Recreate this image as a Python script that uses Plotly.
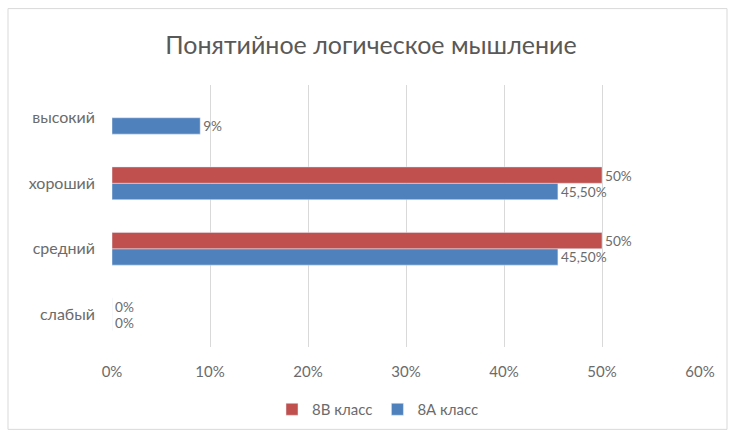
import plotly.graph_objects as go

categories = ["слабый", "средний", "хороший", "высокий"]
vals_8a = [0, 45.5, 45.5, 9]
vals_8b = [0, 50, 50, None]
labels_8a = ["0%", "45,50%", "45,50%", "9%"]
labels_8b = ["0%", "50%", "50%", ""]
tick_vals = [0, 10, 20, 30, 40, 50, 60]
tick_text = ["0%", "10%", "20%", "30%", "40%", "50%", "60%"]

FONT = "Lato, 'Open Sans', sans-serif"
GRAY = "#595959"
LGRAY = "#6b6b6b"

fig = go.Figure()
fig.add_trace(go.Bar(
    y=categories, x=vals_8a, orientation="h", name="8А класс",
    marker_color="#4f81bd", text=labels_8a, textposition="outside",
    textfont=dict(color=LGRAY, size=15, family=FONT), cliponaxis=False,
    legendrank=2,
))
fig.add_trace(go.Bar(
    y=categories, x=vals_8b, orientation="h", name="8В класс",
    marker_color="#c0504d", text=labels_8b, textposition="outside",
    textfont=dict(color=LGRAY, size=15, family=FONT), cliponaxis=False,
    legendrank=1,
))

L, R, T, B = 112, 30, 85, 89
W, H = 730, 438
pw = W - L - R
ph = H - T - B

fig.update_layout(
    width=W, height=H,
    margin=dict(l=L, r=R, t=T, b=B),
    paper_bgcolor="white", plot_bgcolor="white",
    barmode="group", bargap=0.5, bargroupgap=0,
    font=dict(family=FONT, color=LGRAY, size=14),
    title=dict(text="Понятийное логическое мышление", x=371 / W, xanchor="center",
               xref="container", y=1 - 45 / H, yanchor="middle", yref="container",
               font=dict(size=25, color=GRAY, family=FONT)),
    legend=dict(orientation="h", x=(378 - L) / pw, xanchor="center",
                y=(H - B - 412) / ph, yanchor="middle",
                font=dict(size=15, color=LGRAY, family=FONT),
                itemwidth=30, traceorder="normal"),
    xaxis=dict(range=[0, 60], tickvals=tick_vals, ticktext=tick_text,
               showgrid=True, gridcolor="#d9d9d9", gridwidth=1,
               zeroline=False, showline=False, ticklabelstandoff=14,
               tickfont=dict(size=15, color=LGRAY)),
    yaxis=dict(range=[-0.5, 3.5], showgrid=False, zeroline=False, showline=False,
               ticklabelstandoff=16, tickfont=dict(size=16, color=LGRAY)),
    showlegend=True,
)

fig.add_shape(type="rect", xref="paper", yref="paper",
              x0=(8 - L) / pw, x1=(727 - L) / pw,
              y0=(H - B - 432) / ph, y1=(H - B - 8) / ph,
              line=dict(color="#d9d9d9", width=1), layer="below")

fig.write_html("out.html", config={"displayModeBar": False},
               post_script="document.body.style.margin='0';")
